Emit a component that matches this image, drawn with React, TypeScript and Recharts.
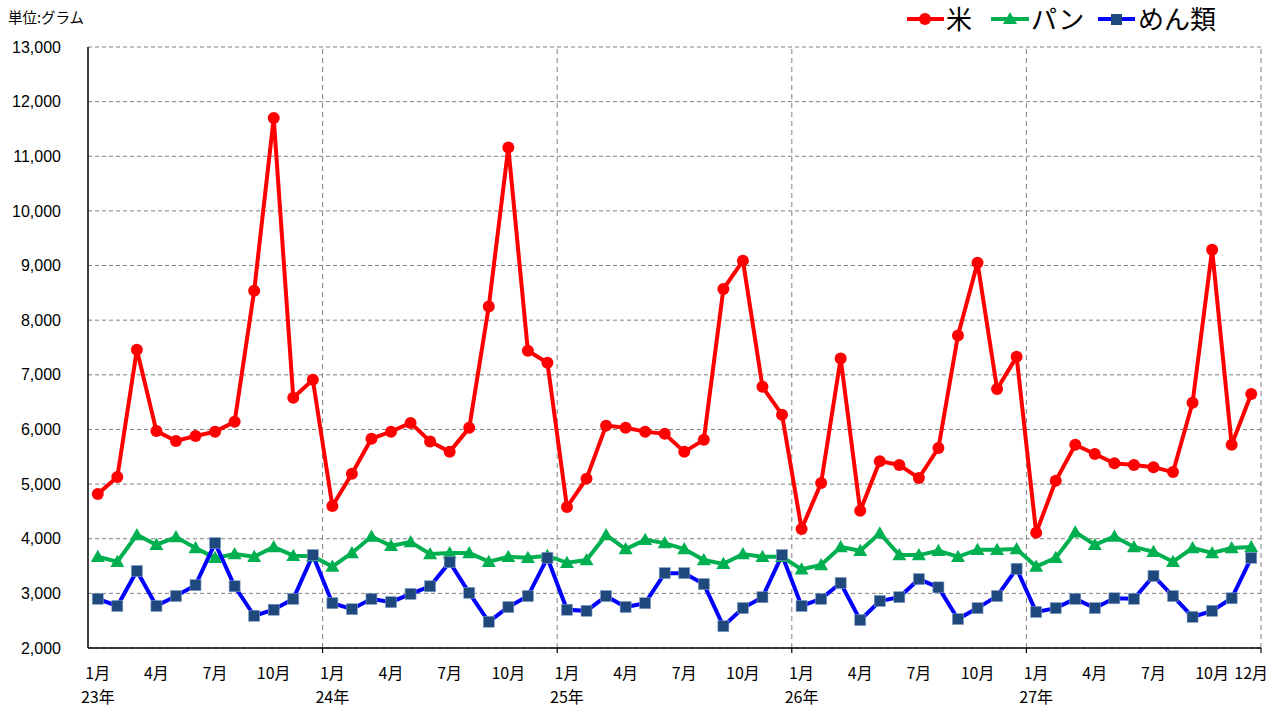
import React from 'react';
import { LineChart, Line, XAxis, YAxis, CartesianGrid, ReferenceLine } from 'recharts';

const years = ['23', '24', '25', '26', '27'];
const labelMonths = [1, 4, 7, 10];
const yTicks = [2000, 3000, 4000, 5000, 6000, 7000, 8000, 9000, 10000, 11000, 12000, 13000];

// 米
const rice = [
  4820, 5130, 7460, 5970, 5790, 5880, 5960, 6140, 8540, 11700, 6580, 6910,
  4600, 5190, 5830, 5960, 6120, 5780, 5590, 6030, 8250, 11160, 7440, 7220,
  4580, 5100, 6070, 6030, 5960, 5920, 5590, 5810, 8570, 9090, 6780, 6270,
  4180, 5020, 7300, 4510, 5420, 5350, 5110, 5660, 7720, 9050, 6740, 7330,
  4110, 5060, 5720, 5550, 5380, 5350, 5310, 5220, 6490, 9290, 5720, 6650,
];

// パン
const bread = [
  3670, 3580, 4070, 3890, 4030, 3830, 3650, 3720, 3670, 3850, 3690, 3680,
  3490, 3740, 4040, 3870, 3940, 3720, 3740, 3740, 3580, 3670, 3650, 3690,
  3560, 3610, 4070, 3810, 3980, 3920, 3810, 3610, 3540, 3720, 3670, 3670,
  3440, 3520, 3850, 3780, 4100, 3700, 3700, 3780, 3670, 3800, 3800, 3810,
  3490, 3650, 4120, 3890, 4040, 3850, 3760, 3580, 3830, 3740, 3830, 3850,
];

// めん類
const noodles = [
  2900, 2770, 3410, 2770, 2950, 3150, 3920, 3130, 2590, 2700, 2900, 3700,
  2820, 2710, 2900, 2840, 2990, 3130, 3570, 3010, 2480, 2750, 2950, 3650,
  2700, 2680, 2950, 2750, 2820, 3370, 3370, 3170, 2400, 2730, 2930, 3700,
  2770, 2900, 3190, 2510, 2860, 2930, 3260, 3110, 2530, 2730, 2950, 3450,
  2660, 2730, 2900, 2730, 2910, 2900, 3320, 2950, 2570, 2680, 2910, 3650,
];

const data = rice.map((v, i) => ({
  x: i + 0.5,
  rice: v,
  bread: bread[i],
  noodles: noodles[i],
}));

const yearBoundaries = years.map((_, k) => (k + 1) * 12);
const labelTicks = years
  .flatMap((_, k) => labelMonths.map((m) => k * 12 + m - 1 + 0.5))
  .concat([rice.length - 0.5]);
const xTicks = [...labelTicks, ...yearBoundaries].sort((a, b) => a - b);

const jpFont = '"Noto Sans CJK JP", sans-serif';

const XTick = (props: any) => {
  const { x, y, payload } = props;
  const v = payload.value;
  if (Number.isInteger(v)) {
    return <line x1={x} x2={x} y1={y} y2={y + 5} stroke="#000" strokeWidth={1.2} />;
  }
  const idx = Math.floor(v);
  const month = (idx % 12) + 1;
  const year = years[Math.floor(idx / 12)];
  return (
    <g>
      <text x={x} y={y + 31} textAnchor="middle" fontSize={16} fontFamily={jpFont} fill="#000">
        {month}月
      </text>
      {month === 1 && (
        <text x={x} y={y + 55} textAnchor="middle" fontSize={16} fontFamily={jpFont} fill="#000">
          {year}年
        </text>
      )}
    </g>
  );
};

const CircleDot = (props: any) => {
  const { cx, cy, index } = props;
  return <circle key={`c${index}`} cx={cx} cy={cy} r={6} fill="#FF0000" />;
};

const TriangleDot = (props: any) => {
  const { cx, cy, index } = props;
  const s = 7;
  return (
    <polygon
      key={`t${index}`}
      points={`${cx},${cy - s} ${cx - s},${cy + s * 0.75} ${cx + s},${cy + s * 0.75}`}
      fill="#00B050"
    />
  );
};

const SquareDot = (props: any) => {
  const { cx, cy, index } = props;
  return (
    <rect
      key={`s${index}`}
      x={cx - 5.5}
      y={cy - 5.5}
      width={11}
      height={11}
      fill="#1F497D"
      stroke="#7f9cc4"
      strokeWidth={0.6}
    />
  );
};

const LegendOverlay = () => (
  <svg width={1281} height={709} style={{ position: 'absolute', left: 0, top: 0, pointerEvents: 'none' }}>
    <text x={8} y={23} fontSize={14.5} fontFamily={jpFont} fill="#000">単位:グラム</text>
    <line x1={907} x2={944} y1={19} y2={19} stroke="#FF0000" strokeWidth={4} />
    <circle cx={925} cy={19} r={6} fill="#FF0000" />
    <text x={946} y={29} fontSize={26} fontFamily={jpFont} fill="#000">米</text>
    <line x1={991} x2={1029} y1={19} y2={19} stroke="#00B050" strokeWidth={4} />
    <polygon points="1010,12 1003,24 1017,24" fill="#00B050" />
    <text x={1031} y={29} fontSize={26} fontFamily={jpFont} fill="#000">パン</text>
    <line x1={1098} x2={1135} y1={19} y2={19} stroke="#0000FF" strokeWidth={4} />
    <rect x={1111} y={14} width={11} height={11} fill="#1F497D" />
    <text x={1138} y={29} fontSize={26} fontFamily={jpFont} fill="#000">めん類</text>
  </svg>
);

export default function App() {
  return (
    <div style={{ position: 'absolute', left: 0, top: 0, width: 1281, height: 709, background: '#fff' }}>
      <LineChart width={1281} height={709} data={data} margin={{ top: 47, right: 20, left: 0, bottom: 0 }}>
        <CartesianGrid vertical={false} stroke="#808080" strokeDasharray="4 3" />
        {yearBoundaries.map((b) => (
          <ReferenceLine key={b} x={b} stroke="#808080" strokeDasharray="5 4" />
        ))}
        <XAxis
          type="number"
          dataKey="x"
          domain={[0, 60]}
          ticks={xTicks}
          interval={0}
          tick={<XTick />}
          tickLine={false}
          tickSize={0}
          tickMargin={0}
          height={61}
          axisLine={{ stroke: '#000', strokeWidth: 1.5 }}
          allowDataOverflow
        />
        <YAxis
          domain={[2000, 13000]}
          ticks={yTicks}
          interval={0}
          width={88}
          tickLine={false}
          tickMargin={21}
          axisLine={{ stroke: '#000', strokeWidth: 1.5 }}
          tick={{ fontSize: 16, fill: '#000', fontFamily: '"Liberation Sans", Arial, sans-serif' }}
          tickFormatter={(v: number) => v.toLocaleString('en-US')}
        />
        <Line dataKey="rice" stroke="#FF0000" strokeWidth={4} dot={CircleDot} isAnimationActive={false} />
        <Line dataKey="bread" stroke="#00B050" strokeWidth={4} dot={TriangleDot} isAnimationActive={false} />
        <Line dataKey="noodles" stroke="#0000FF" strokeWidth={4} dot={SquareDot} isAnimationActive={false} />
      </LineChart>
      <LegendOverlay />
    </div>
  );
}
